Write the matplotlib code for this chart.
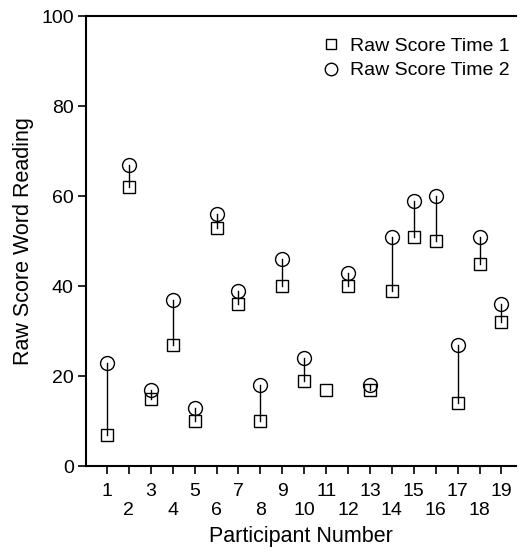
import matplotlib
matplotlib.use("Agg")
import matplotlib.pyplot as plt
import numpy as np

plt.rcParams['font.family'] = ['Liberation Sans', 'DejaVu Sans']

participants = list(range(1, 20))
time1 = [7, 62, 15, 27, 10, 53, 36, 10, 40, 19, 17, 40, 17, 39, 51, 50, 14, 45, 32]
time2 = [23, 67, 17, 37, 13, 56, 39, 18, 46, 24, np.nan, 43, 18, 51, 59, 60, 27, 51, 36]

fig = plt.figure(figsize=(5.22, 5.53), dpi=100)
ax = fig.add_axes([0.165, 0.157, 0.823, 0.814])

for p, a, b in zip(participants, time1, time2):
    if not np.isnan(b):
        ax.plot([p, p], [a, b], color='black', lw=1.0, zorder=1)

ax.plot(participants, time1, linestyle='none', marker='s', ms=8, mfc='none',
        mec='black', mew=1.0, label='Raw Score Time 1', zorder=2)
ax.plot(participants, time2, linestyle='none', marker='o', ms=10, mfc='none',
        mec='black', mew=1.0, label='Raw Score Time 2', zorder=2)

ax.set_xlim(0.05, 19.65)
ax.set_ylim(0, 100)
ax.set_yticks([0, 20, 40, 60, 80, 100])
ax.set_xticks(participants)
ax.set_xticklabels([str(p) if p % 2 == 1 else "\n" + str(p) for p in participants],
                   linespacing=1.15)
ax.tick_params(axis='both', labelsize=14, length=6, width=1.2, direction='out', color='black')
ax.tick_params(axis='x', pad=6)
ax.tick_params(axis='y', pad=3)
ax.spines['right'].set_visible(False)
for s in ['left', 'bottom', 'top']:
    ax.spines[s].set_linewidth(1.5)

ax.set_xlabel('Participant Number', fontsize=15.5, labelpad=5)
ax.set_ylabel('Raw Score Word Reading', fontsize=15.5, labelpad=5)

leg = ax.legend(loc='upper right', frameon=False, fontsize=14, markerscale=0.9,
                handletextpad=0.5, handlelength=1.0, borderaxespad=0.0, labelspacing=0.35,
                bbox_to_anchor=(1.005, 0.97))

fig.savefig('out.png', dpi=100)
